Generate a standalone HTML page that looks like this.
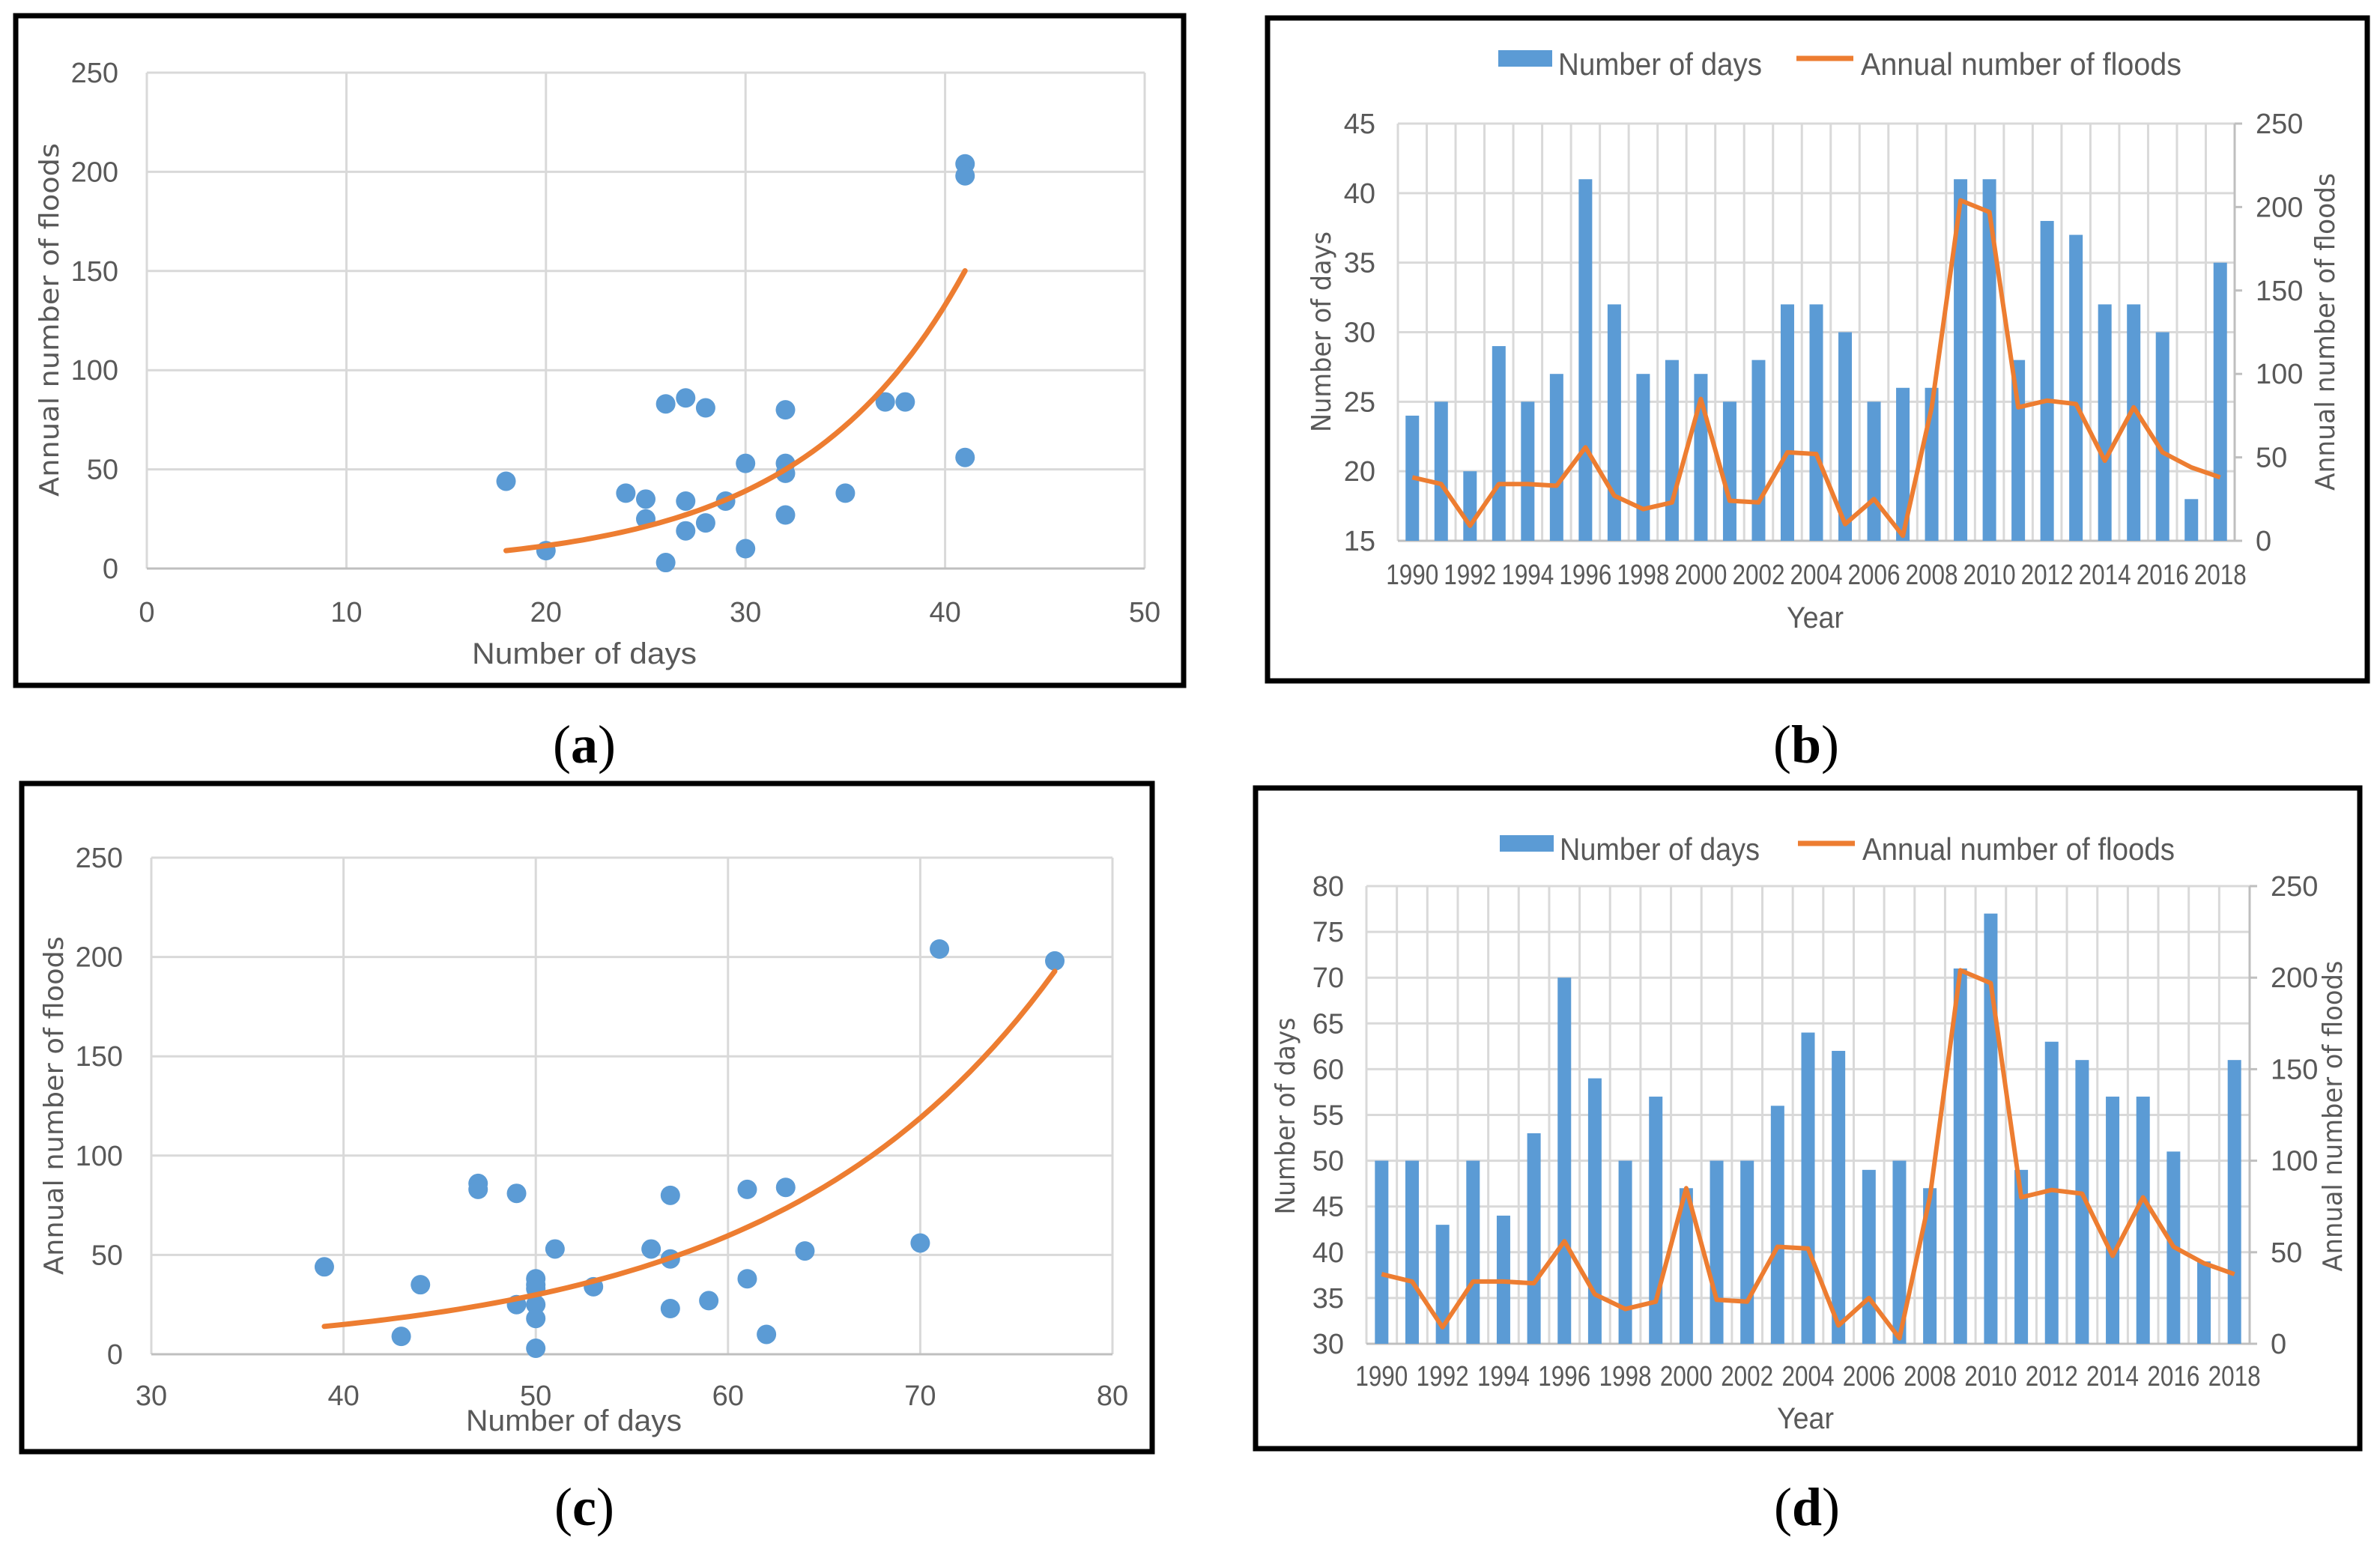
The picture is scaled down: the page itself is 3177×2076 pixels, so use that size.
<!DOCTYPE html>
<html><head><meta charset="utf-8"><style>
html,body{margin:0;padding:0;background:#fff;}
svg{display:block;}
text{font-family:"Liberation Sans",sans-serif;fill:#595959;}
</style></head><body>
<svg id="fig" width="3177" height="2076" viewBox="0 0 3177 2076" xmlns="http://www.w3.org/2000/svg"></svg>
<script>
// ---------- data ----------
const years = [1990,1991,1992,1993,1994,1995,1996,1997,1998,1999,2000,2001,2002,2003,2004,2005,2006,2007,2008,2009,2010,2011,2012,2013,2014,2015,2016,2017,2018];
const floods = [38,34,9,34,34,33,56,27,19,23,85,24,23,53,52,10,25,3,80,204,197,80,84,82,48,80,53,44,38];
const daysB = [24,25,20,29,25,27,41,32,27,28,27,25,28,32,32,30,25,26,26,41,41,28,38,37,32,32,30,18,35];
const daysD = [50,50,43,50,44,53,70,59,50,57,47,50,50,56,64,62,49,50,47,71,77,49,63,61,57,57,51,39,61];
const scatterAx = [18,20,24,25,25,26,26,27,27,27,28,28,29,30,30,32,32,32,32,35,37,38,41,41,41];
const scatterAy = [44,9,38,35,25,83,3,86,34,19,81,23,34,53,10,80,53,48,27,38,84,84,204,198,56];
const scatterCx = [39,43,44,47,47,49,49,50,50,50,50,50,50,51,53,56,57,57,57,59,61,61,62,63,64,70,71,77];
const scatterCy = [44,9,35,86,83,81,25,38,35,33,25,18,3,53,34,53,80,48,23,27,83,38,10,84,52,56,204,198];
const trendA = {a:0.997, b:0.1223, x0:18, x1:41};
const trendC = {a:0.95, b:0.069, x0:39, x1:77};
const ticksA = [0,10,20,30,40,50];
const ticksC = [30,40,50,60,70,80];
const ticksFlood = [0,50,100,150,200,250];
const ticksDaysB = [15,20,25,30,35,40,45];
const ticksDaysD = [30,35,40,45,50,55,60,65,70,75,80];

const NS='http://www.w3.org/2000/svg';
const svg=document.getElementById('fig');
const BLUE='#5b9bd5', ORANGE='#ed7d31', GRID='#d9d9d9';
function el(tag,attrs,parent){const e=document.createElementNS(NS,tag);for(const k in attrs)e.setAttribute(k,attrs[k]);(parent||svg).appendChild(e);return e;}
function txt(s,attrs,parent){const e=el('text',attrs,parent);e.textContent=s;return e;}

function frame(x1,y1,x2,y2,name){
  const r=el('rect',{x:x1,y:y1,width:x2-x1,height:y2-y1,fill:'none',stroke:'#000','stroke-width':7});
  
  
}
function caption(letter,cx,by,name){
  const t=el('text',{x:cx,y:by,'text-anchor':'middle','font-size':72,style:'font-family:"Liberation Serif",serif;fill:#000'});
  t.innerHTML='(<tspan font-weight="bold">'+letter+'</tspan>)';
  
  
}

function scatterPanel(cfg){
  const g=el('g',{});
  
  
  const xs=v=>cfg.L+(v-cfg.xmin)/(cfg.xmax-cfg.xmin)*(cfg.R-cfg.L);
  const ys=v=>cfg.B-(v-0)/(250)*(cfg.B-cfg.T);
  cfg.xt.forEach(v=>{
    const l=el('line',{x1:xs(v),x2:xs(v),y1:cfg.T,y2:cfg.B,stroke:GRID,'stroke-width':3},g);
    
    
    const t=txt(String(v),{x:xs(v),y:cfg.xtY,'text-anchor':'middle','font-size':38},g);
    
    
  });
  ticksFlood.forEach(v=>{
    const l=el('line',{x1:cfg.L,x2:cfg.R,y1:ys(v),y2:ys(v),stroke:v===0?'#bfbfbf':GRID,'stroke-width':3},g);
    
    
    const t=txt(String(v),{x:cfg.L-38,y:ys(v)+13,'text-anchor':'end','font-size':38},g);
    
    
  });
  cfg.px.forEach((x,i)=>{
    const c=el('circle',{cx:xs(x),cy:ys(cfg.py[i]),r:13,fill:BLUE},g);
    
    
  });
  let d='';
  for(let k=0;k<=60;k++){const x=cfg.tr.x0+(cfg.tr.x1-cfg.tr.x0)*k/60;const y=cfg.tr.a*Math.exp(cfg.tr.b*x);d+=(k?'L':'M')+xs(x).toFixed(1)+','+ys(y).toFixed(1);}
  const p=el('path',{d:d,fill:'none',stroke:ORANGE,'stroke-width':7,'stroke-linecap':'round'},g);
  
  
  const xt=txt('Number of days',{x:cfg.xTitleX,y:cfg.xTitleY,'text-anchor':'middle','font-size':40,textLength:cfg.xTitleLen,lengthAdjust:'spacingAndGlyphs'},g);
  
  
  const yt=txt('Annual number of floods',{x:0,y:0,'text-anchor':'middle','font-size':36,textLength:cfg.yTitleLen,lengthAdjust:'spacingAndGlyphs',transform:'translate('+cfg.yTitleX+','+cfg.yTitleY+') rotate(-90)',style:'font-family:"DejaVu Sans",sans-serif'},g);
  
  
}

function comboPanel(cfg){
  const g=el('g',{});
  
  
  const n=years.length, cw=(cfg.R-cfg.L)/n;
  const xc=i=>cfg.L+cw*(i+0.5);
  const yl=v=>cfg.B-(v-cfg.dmin)/(cfg.dmax-cfg.dmin)*(cfg.B-cfg.T);
  const yr=v=>cfg.B-v/250*(cfg.B-cfg.T);
  for(let i=0;i<=n;i++){
    const x=cfg.L+cw*i;
    const l=el('line',{x1:x,x2:x,y1:cfg.T,y2:cfg.B,stroke:GRID,'stroke-width':3},g);
    
    
  }
  cfg.dt.forEach(v=>{
    const l=el('line',{x1:cfg.L,x2:cfg.R,y1:yl(v),y2:yl(v),stroke:v===cfg.dmin?'#bfbfbf':GRID,'stroke-width':3},g);
    
    
    const t=txt(String(v),{x:cfg.L-30,y:yl(v)+13,'text-anchor':'end','font-size':38},g);
    
    
  });
  const ax=el('line',{x1:cfg.R,x2:cfg.R,y1:cfg.T,y2:cfg.B,stroke:'#bfbfbf','stroke-width':3},g);
  
  
  ticksFlood.forEach(v=>{
    const l=el('line',{x1:cfg.R,x2:cfg.R+10,y1:yr(v),y2:yr(v),stroke:'#bfbfbf','stroke-width':3},g);
    
    
    const t=txt(String(v),{x:cfg.R+28,y:yr(v)+13,'font-size':38},g);
    
    
  });
  cfg.days.forEach((v,i)=>{
    const r=el('rect',{x:xc(i)-9,y:yl(v),width:18,height:cfg.B-yl(v),fill:BLUE},g);
    
    
  });
  const pts=floods.map((v,i)=>xc(i).toFixed(1)+','+yr(v).toFixed(1)).join(' ');
  const pl=el('polyline',{points:pts,fill:'none',stroke:ORANGE,'stroke-width':6,'stroke-linejoin':'round'},g);
  
  
  years.forEach((y,i)=>{ if(i%2===0){
    const t=txt(String(y),{x:xc(i),y:cfg.yrY,'text-anchor':'middle','font-size':38,textLength:70,lengthAdjust:'spacingAndGlyphs'},g);
    
    
  }});
  const xt=txt('Year',{x:cfg.yearTX,y:cfg.yearTY,'text-anchor':'middle','font-size':40,textLength:76,lengthAdjust:'spacingAndGlyphs'},g);
  
  
  const lt=txt('Number of days',{x:0,y:0,'text-anchor':'middle','font-size':36,textLength:cfg.lTitleLen,lengthAdjust:'spacingAndGlyphs',transform:'translate('+cfg.lTitleX+','+cfg.titleY+') rotate(-90)',style:'font-family:"DejaVu Sans",sans-serif'},g);
  
  
  const rt=txt('Annual number of floods',{x:0,y:0,'text-anchor':'middle','font-size':36,textLength:cfg.rTitleLen,lengthAdjust:'spacingAndGlyphs',transform:'translate('+cfg.rTitleX+','+cfg.titleY+') rotate(-90)',style:'font-family:"DejaVu Sans",sans-serif'},g);
  
  
  const lg=el('g',{},g);
  
  
  const lr=el('rect',{x:cfg.lgX,y:cfg.lgY-33,width:72,height:22,fill:BLUE},lg);
  
  
  const l1=txt('Number of days',{x:cfg.lgX+80,y:cfg.lgY,'font-size':42,textLength:cfg.lg1Len,lengthAdjust:'spacingAndGlyphs'},lg);
  
  
  const ll=el('line',{x1:cfg.lg2X,x2:cfg.lg2X+76,y1:cfg.lgY-22,y2:cfg.lgY-22,stroke:ORANGE,'stroke-width':7},lg);
  
  
  const l2=txt('Annual number of floods',{x:cfg.lg2X+86,y:cfg.lgY,'font-size':42,textLength:cfg.lg2Len,lengthAdjust:'spacingAndGlyphs'},lg);
  
  
}

// Panel (a)
frame(21,21,1580,915,'panel-a-frame');
scatterPanel({name:'panel-a-scatter',L:196,R:1528,T:97,B:759,xmin:0,xmax:50,xt:ticksA,xtY:830,px:scatterAx,py:scatterAy,tr:trendA,
  xTitleX:780,xTitleY:886,xTitleLen:300,yTitleX:78,yTitleY:427,yTitleLen:472});
caption('a',780,1018,'caption-a');

// Panel (b)
frame(1692,24,3160,909,'panel-b-frame');
comboPanel({name:'panel-b-combo',L:1866,R:2983,T:165,B:722,dmin:15,dmax:45,dt:ticksDaysB,days:daysB,yrY:780,yearTX:2423,yearTY:838,
  lTitleX:1776,rTitleX:3116,titleY:443,lTitleLen:268,rTitleLen:424,lgX:2000,lgY:100,lg1Len:272,lg2X:2398,lg2Len:428});
caption('b',2411,1018,'caption-b');

// Panel (c)
frame(29,1046,1538,1938,'panel-c-frame');
scatterPanel({name:'panel-c-scatter',L:202,R:1485,T:1145,B:1808,xmin:30,xmax:80,xt:ticksC,xtY:1876,px:scatterCx,py:scatterCy,tr:trendC,
  xTitleX:766,xTitleY:1910,xTitleLen:288,yTitleX:84,yTitleY:1476,yTitleLen:452});
caption('c',780,2036,'caption-c');

// Panel (d)
frame(1676,1052,3150,1934,'panel-d-frame');
comboPanel({name:'panel-d-combo',L:1824,R:3003,T:1183,B:1794,dmin:30,dmax:80,dt:ticksDaysD,days:daysD,yrY:1850,yearTX:2410,yearTY:1907,
  lTitleX:1728,rTitleX:3126,titleY:1490,lTitleLen:263,rTitleLen:415,lgX:2002,lgY:1148,lg1Len:267,lg2X:2400,lg2Len:417});
caption('d',2412,2036,'caption-d');
</script>
</body></html>
